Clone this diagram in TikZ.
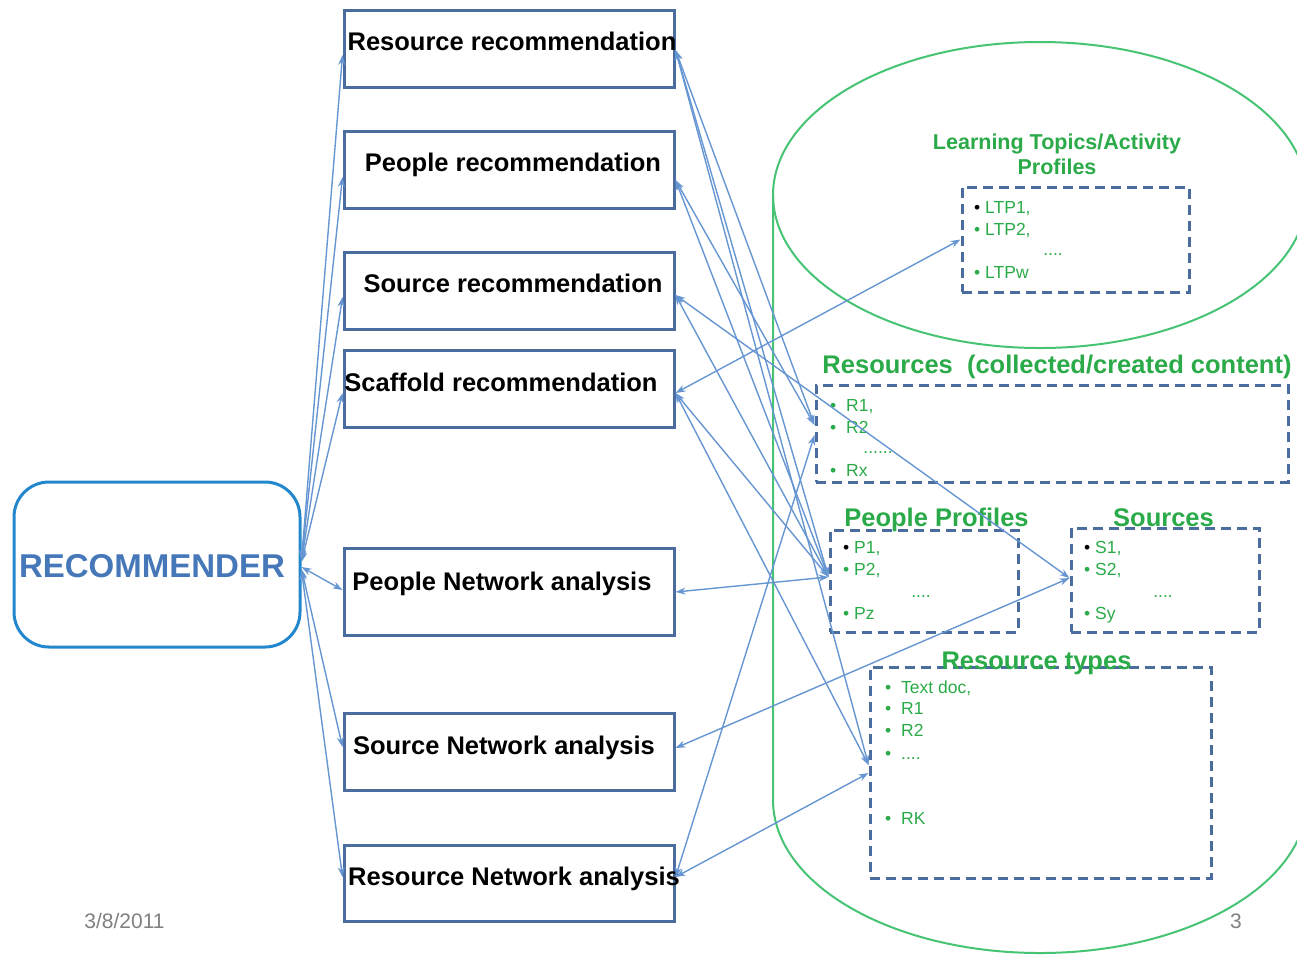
\documentclass[tikz,border=0pt]{standalone}
\usepackage{fontspec}
\setmainfont{Liberation Sans}
\usetikzlibrary{arrows.meta}
\definecolor{boxblue}{RGB}{74,108,158}
\definecolor{lblue}{RGB}{102,150,210}
\definecolor{tgreen}{RGB}{42,170,72}
\definecolor{cylgreen}{RGB}{70,195,115}
\definecolor{recblue}{RGB}{35,135,205}
\definecolor{rectext}{RGB}{70,120,185}
\definecolor{footgray}{RGB}{128,128,128}
\begin{document}
\begin{tikzpicture}[x=1pt,y=-1pt,
  recbox/.style={draw=boxblue,line width=3pt,minimum width=330pt,minimum height=77pt,inner sep=0pt},
  btxt/.style={font=\fontsize{25.5}{30}\selectfont\bfseries,inner sep=0pt,anchor=base},
  dbox/.style={draw=boxblue,line width=3pt,dash pattern=on 10pt off 6pt,inner sep=0pt},
  gtitle/.style={text=tgreen,font=\fontsize{25.5}{30}\selectfont\bfseries,inner sep=0pt,anchor=base},
  ltitle/.style={text=tgreen,font=\fontsize{21.5}{25}\selectfont\bfseries,inner sep=0pt,align=center},
  item/.style={text=tgreen,font=\fontsize{17.5}{22}\selectfont,inner sep=0pt,anchor=base west},
  dots/.style={text=tgreen,font=\fontsize{17.5}{22}\selectfont,inner sep=0pt,anchor=base},
  conn/.style={draw=lblue,line width=1.4pt,{Stealth[length=10pt,width=7pt]}-{Stealth[length=10pt,width=7pt]}},
  cyl/.style={draw=cylgreen,line width=2pt},
  foot/.style={text=footgray,font=\fontsize{21}{24}\selectfont,inner sep=0pt,anchor=base}]

\useasboundingbox (0,0) rectangle (1297,954);
\clip (0,0) rectangle (1297,954);

% cylinder (repository)
\draw[cyl] (1040,195) ellipse [x radius=267pt, y radius=153pt];
\draw[cyl] (773,195) -- (773,800) arc[start angle=180, end angle=360, x radius=267pt, y radius=153pt] -- (1307,195);

% recommender
\node[draw=recblue,line width=3pt,rounded corners=35pt,minimum width=286pt,minimum height=165pt,inner sep=0pt] (rec) at (157,564.5) {};
\node[text=rectext,font=\fontsize{33}{36}\selectfont\bfseries,inner sep=0pt,anchor=base] (rectxt) at (152,577) {RECOMMENDER};

% recommendation / analysis boxes
\node[recbox] (rr)  at (509,48.5) {};
\node[recbox] (pr)  at (509,169.5) {};
\node[recbox] (sr)  at (509,290.5) {};
\node[recbox] (scr) at (509,388.5) {};
\node[recbox,minimum height=87pt] (pna) at (509,591.5) {};
\node[recbox] (sna) at (509,751.5) {};
\node[recbox,minimum height=76pt] (rna) at (509,883) {};

\node[btxt] (rrT)  at (512,50)  {Resource recommendation};
\node[btxt] (prT)  at (513,171) {People recommendation};
\node[btxt] (srT)  at (513,292) {Source recommendation};
\node[btxt] (scrT) at (501,391) {Scaffold recommendation};
\node[btxt] (pnaT) at (502,590) {People Network analysis};
\node[btxt] (snaT) at (504,754) {Source Network analysis};
\node[btxt] (rnaT) at (514,885) {Resource Network analysis};

% repository contents
\node[ltitle] (ltpT) at (1057,154.5) {Learning Topics/Activity\\Profiles};
\node[dbox,minimum width=227pt,minimum height=105pt] (ltp) at (1075.5,239.5) {};
\node[item] (ltp1) at (974,213) {{\color{black}•} LTP1,};
\node[item] (ltp2) at (974,235) {• LTP2,};
\node[dots] (ltpd) at (1053,255) {....};
\node[item] (ltpw) at (974,278) {• LTPw};

\node[gtitle] (resT) at (1057,373) {Resources\ \ (collected/created content)};
\node[dbox,minimum width=472pt,minimum height=97pt] (res) at (1052,433.5) {};
\node[item] (r1) at (830,411) {•\hspace{5pt} R1,};
\node[item] (r2) at (830,433) {•\hspace{5pt} R2};
\node[dots] (rd) at (878,453) {......};
\node[item] (rx) at (830,476) {•\hspace{5pt} Rx};

\node[gtitle] (pplT) at (936.5,526) {People Profiles};
\node[dbox,minimum width=188pt,minimum height=102pt] (ppl) at (924,581) {};
\node[item] (p1) at (843,553) {{\color{black}•} P1,};
\node[item] (p2) at (843,575) {• P2,};
\node[dots] (pd) at (921,597) {....};
\node[item] (pz) at (843,619) {• Pz};

\node[gtitle] (srcT) at (1163.5,526) {Sources};
\node[dbox,minimum width=188pt,minimum height=104pt] (src) at (1165,580) {};
\node[item] (s1) at (1084,553) {{\color{black}•} S1,};
\node[item] (s2) at (1084,575) {• S2,};
\node[dots] (sd) at (1163,597) {....};
\node[item] (sy) at (1084,619) {• Sy};

\node[dbox,minimum width=341pt,minimum height=211pt] (rt) at (1040.5,772.5) {};
\node[gtitle] (rtT) at (1036.5,669) {Resource types};
\node[item] (t1) at (885,693) {•\hspace{5pt} Text doc,};
\node[item] (t2) at (885,714) {•\hspace{5pt} R1};
\node[item] (t3) at (885,736) {•\hspace{5pt} R2};
\node[item] (t4) at (885,759) {•\hspace{5pt} ....};
\node[item] (t5) at (885,824) {•\hspace{5pt} RK};

% footer
\node[foot] (date) at (124.5,928) {3/8/2011};
\node[foot] (pg) at (1236,928) {3};

% connectors: recommender to components
\draw[conn] ([yshift=4.5pt]rec.east) -- ([yshift=-6.5pt]rr.west);
\draw[conn] ([yshift=4.5pt]rec.east) -- ([yshift=-7.5pt]pr.west);
\draw[conn] ([yshift=3.5pt]rec.east) -- ([yshift=-6.5pt]sr.west);
\draw[conn] ([yshift=2.5pt]rec.east) -- ([yshift=-4.5pt]scr.west);
\draw[conn] ([yshift=-2.5pt]rec.east) -- ([yshift=1.5pt]pna.west);
\draw[conn] ([yshift=-4.5pt]rec.east) -- ([yshift=4.5pt]sna.west);
\draw[conn] ([yshift=-5.5pt]rec.east) -- ([yshift=6pt]rna.west);

% connectors: components to repository
\draw[conn] ([yshift=-1.5pt]rr.east) -- ([yshift=8.5pt]res.west);
\draw[conn] ([yshift=-1.5pt]rr.east) -- ([yshift=4pt]ppl.west);
\draw[conn] ([yshift=-1.5pt]rr.east) -- ([yshift=7.5pt]rt.west);
\draw[conn] ([yshift=-10.5pt]pr.east) -- ([yshift=4pt]ppl.west);
\draw[conn] ([yshift=-10.5pt]pr.east) -- ([yshift=8.5pt]res.west);
\draw[conn] ([yshift=-4.5pt]sr.east) -- ([yshift=2pt]src.west);
\draw[conn] ([yshift=-4.5pt]sr.east) -- ([yshift=4pt]ppl.west);
\draw[conn] ([yshift=-4.5pt]scr.east) -- (ltp.west);
\draw[conn] ([yshift=-4.5pt]scr.east) -- ([yshift=4pt]ppl.west);
\draw[conn] ([yshift=-4.5pt]scr.east) -- ([yshift=7.5pt]rt.west);
\draw[conn] ([yshift=-0.5pt]pna.east) -- ([yshift=4pt]ppl.west);
\draw[conn] ([yshift=3.5pt]sna.east) -- ([yshift=2pt]src.west);
\draw[conn] ([yshift=6pt]rna.east) -- ([yshift=-1.5pt]res.west);
\draw[conn] ([yshift=6pt]rna.east) -- ([yshift=-0.5pt]rt.west);
\end{tikzpicture}
\end{document}
